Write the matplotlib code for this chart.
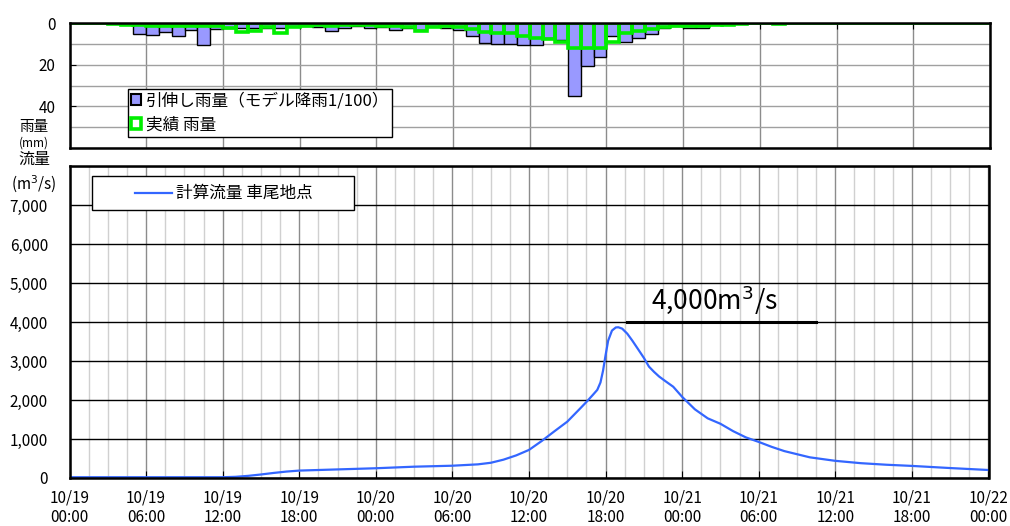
import matplotlib
matplotlib.use("Agg")
import matplotlib.pyplot as plt
from matplotlib.ticker import MultipleLocator, FixedLocator
from matplotlib.lines import Line2D
from matplotlib.patches import Patch, Rectangle

plt.rcParams['font.family'] = ['Noto Sans CJK JP', 'DejaVu Sans']

# ---------------- data ----------------
# hourly rainfall (mm), bar for hour h covers [h, h+1]
hours = list(range(72))
rain_model = [0, 0, 0, 0, 0, 5.2, 5.7, 4.1, 6.0, 3.5, 10.4, 3.0,
              2.5, 2.5, 2.5, 2.5, 2.5, 1.5, 1.5, 2.0, 3.6, 2.5, 1.5, 2.5,
              2.0, 3.3, 2.5, 3.5, 1.5, 2.5, 3.3, 6.4, 9.6, 9.9, 9.9, 10.4,
              10.7, 7.2, 8.0, 35.2, 20.6, 16.4, 6.4, 9.3, 7.2, 5.3, 2.5, 1.5,
              2.5, 2.5, 0, 0, 0, 0, 0, 0, 0, 0, 0, 0,
              0, 0, 0, 0, 0, 0, 0, 0, 0, 0, 0, 0]
rain_obs = [0, 0, 0, 0.5, 0.8, 1.0, 1.5, 1.5, 1.5, 1.5, 1.5, 1.5,
            2.5, 4.5, 4.0, 2.0, 5.0, 2.0, 1.5, 1.0, 1.5, 1.0, 1.0, 1.0,
            1.5, 1.5, 2.0, 4.0, 2.0, 1.5, 2.0, 3.0, 4.5, 5.0, 5.0, 6.0,
            7.0, 7.5, 9.0, 12.0, 12.0, 12.0, 9.0, 5.0, 4.0, 3.0, 2.0, 1.5,
            1.5, 1.5, 1.0, 1.0, 0.5, 0, 0, 0.6, 0, 0, 0, 0,
            0, 0, 0, 0, 0, 0, 0, 0, 0, 0, 0, 0]

# computed discharge (m3/s) at 車尾地点, time in hours from 10/19 00:00
flow_t = [0, 12, 13, 14, 15, 16, 17, 18, 21, 24, 27, 30, 32, 33, 34, 35, 36,
          37, 38, 39, 40, 40.5, 41, 41.35, 41.6, 41.8, 42, 42.2, 42.5, 42.8,
          43, 43.3, 43.7, 44.1, 44.5, 45, 45.4, 45.8, 46.2, 46.7, 47.3, 48,
          49, 50, 51, 52, 53, 54, 55, 56, 58, 60, 62, 64, 66, 69, 72]
flow_q = [20, 20, 30, 55, 90, 130, 165, 190, 220, 250, 290, 315, 350, 390,
          470, 580, 720, 950, 1200, 1445, 1780, 1950, 2130, 2260, 2450, 2750,
          3150, 3520, 3780, 3860, 3865, 3830, 3700, 3520, 3325, 3080, 2855,
          2720, 2600, 2480, 2340, 2080, 1760, 1530, 1390, 1200, 1040, 925,
          800, 690, 530, 440, 380, 340, 310, 255, 205]

xtick_pos = [0, 6, 12, 18, 24, 30, 36, 42, 48, 54, 60, 66, 72]
xtick_labels = ['10/19\n00:00', '10/19\n06:00', '10/19\n12:00', '10/19\n18:00',
                '10/20\n00:00', '10/20\n06:00', '10/20\n12:00', '10/20\n18:00',
                '10/21\n00:00', '10/21\n06:00', '10/21\n12:00', '10/21\n18:00',
                '10/22\n00:00']
flow_ticks = [0, 1000, 2000, 3000, 4000, 5000, 6000, 7000, 8000]
flow_tick_labels = ['0', '1,000', '2,000', '3,000', '4,000', '5,000', '6,000', '7,000', '']
rain_ticks = [0, 20, 40]

# ---------------- figure ----------------
W, H = 1010, 526
fig = plt.figure(figsize=(W / 100, H / 100), dpi=100)

def fx(px):
    return px / W

def fy(py):
    return 1 - py / H

ax1 = fig.add_axes([fx(69.5), fy(148), fx(990) - fx(69.5), fy(23) - fy(148)])
ax2 = fig.add_axes([fx(69.5), fy(478), fx(988.5) - fx(69.5), fy(166) - fy(478)])

# ---------- rainfall panel ----------
ax1.bar(hours, rain_model, width=1.0, align='edge', color='#9999ff',
        edgecolor='black', linewidth=1.0, zorder=3)
ax1.bar(hours, rain_obs, width=1.0, align='edge', fill=False,
        edgecolor='#00ee00', linewidth=2.6, zorder=4)
ax1.set_xlim(0, 72)
ax1.set_ylim(60, 0)
ax1.xaxis.set_major_locator(FixedLocator(xtick_pos))
ax1.xaxis.tick_top()
ax1.tick_params(axis='x', direction='in', length=4, labeltop=False, labelbottom=False)
ax1.yaxis.set_major_locator(FixedLocator(rain_ticks))
ax1.yaxis.set_minor_locator(MultipleLocator(10))
ax1.tick_params(axis='y', which='major', direction='in', length=4, labelsize=11, pad=10)
ax1.tick_params(axis='y', which='minor', length=0)
ax1.grid(True, axis='x', color='#8c8c8c', linewidth=1.0, zorder=0)
ax1.grid(True, axis='y', which='both', color='#a0a0a0', linewidth=1.0, zorder=0)
ax1.set_axisbelow(True)
for s in ax1.spines.values():
    s.set_linewidth(1.8)
    s.set_color('black')
    s.set_zorder(6)

h_model = Patch(facecolor='#9999ff', edgecolor='black', linewidth=1.5)
h_obs = Patch(facecolor='white', edgecolor='#00ee00', linewidth=2.6)
leg1 = ax1.legend([h_model, h_obs], ['引伸し雨量（モデル降雨1/100）', '実績 雨量'],
                  loc='upper left',
                  bbox_to_anchor=((128 - 69.5) / (990 - 69.5), 1 - (89 - 23) / 125),
                  fontsize=12, frameon=True, fancybox=False, edgecolor='black',
                  framealpha=1, borderpad=0.2, labelspacing=0.42, handlelength=0.6,
                  handleheight=0.6, handletextpad=0.25, borderaxespad=0)
leg1.get_frame().set_linewidth(1.0)
leg1.set_zorder(10)

# ---------- discharge panel ----------
ax2.plot(flow_t, flow_q, color='#3366ff', linewidth=1.6, zorder=5,
         solid_joinstyle='round', solid_capstyle='round')
ax2.set_xlim(0, 72)
ax2.set_ylim(0, 8000)
ax2.xaxis.set_major_locator(FixedLocator(xtick_pos))
ax2.xaxis.set_minor_locator(MultipleLocator(1.5))
ax2.set_xticklabels(xtick_labels, fontsize=11, linespacing=1.25)
ax2.tick_params(axis='x', which='major', direction='in', length=5, pad=8)
ax2.tick_params(axis='x', which='minor', length=0)
ax2.yaxis.set_major_locator(FixedLocator(flow_ticks))
ax2.set_yticklabels(flow_tick_labels, fontsize=11)
ax2.tick_params(axis='y', direction='in', length=0, pad=15.5)
ax2.grid(True, axis='x', which='minor', color='#d0d0d0', linewidth=1.0, zorder=0)
ax2.grid(True, axis='x', which='major', color='#8c8c8c', linewidth=1.0, zorder=1)
ax2.grid(True, axis='y', which='major', color='black', linewidth=1.0, zorder=2)
ax2.set_axisbelow(True)
for s in ax2.spines.values():
    s.set_linewidth(1.8)
    s.set_color('black')
    s.set_zorder(6)

# legend box for the discharge series (drawn in figure pixels)
def px2fig(x, y):
    return (fx(x), fy(y))

box = Rectangle(px2fig(92, 210), fx(354) - fx(92), fy(176) - fy(210),
                transform=fig.transFigure, facecolor='white', edgecolor='black',
                linewidth=1.0, zorder=10)
fig.add_artist(box)
fig.add_artist(Line2D([fx(135), fx(172)], [fy(193), fy(193)], transform=fig.transFigure,
                      color='#3366ff', linewidth=1.6, zorder=11))
fig.text(fx(176), fy(193), '計算流量 車尾地点', fontsize=12, ha='left', va='center',
         zorder=12)

# annotation
ax2.plot([43.7, 58.5], [4000, 4000], color='black', linewidth=2.2, zorder=6)
ax2.text(50.5, 4560, '4,000m$^3$/s', fontsize=19, ha='center', va='center', zorder=7)

# axis unit labels
fig.text(fx(34), fy(127), '雨量', fontsize=10.5, ha='center', va='center')
fig.text(fx(34), fy(143), '(mm)', fontsize=8.5, ha='center', va='center')
fig.text(fx(34), fy(159), '流量', fontsize=11.5, ha='center', va='center')
fig.text(fx(34), fy(184), '(m$^3$/s)', fontsize=11, ha='center', va='center')

fig.savefig('out.png', dpi=100)
